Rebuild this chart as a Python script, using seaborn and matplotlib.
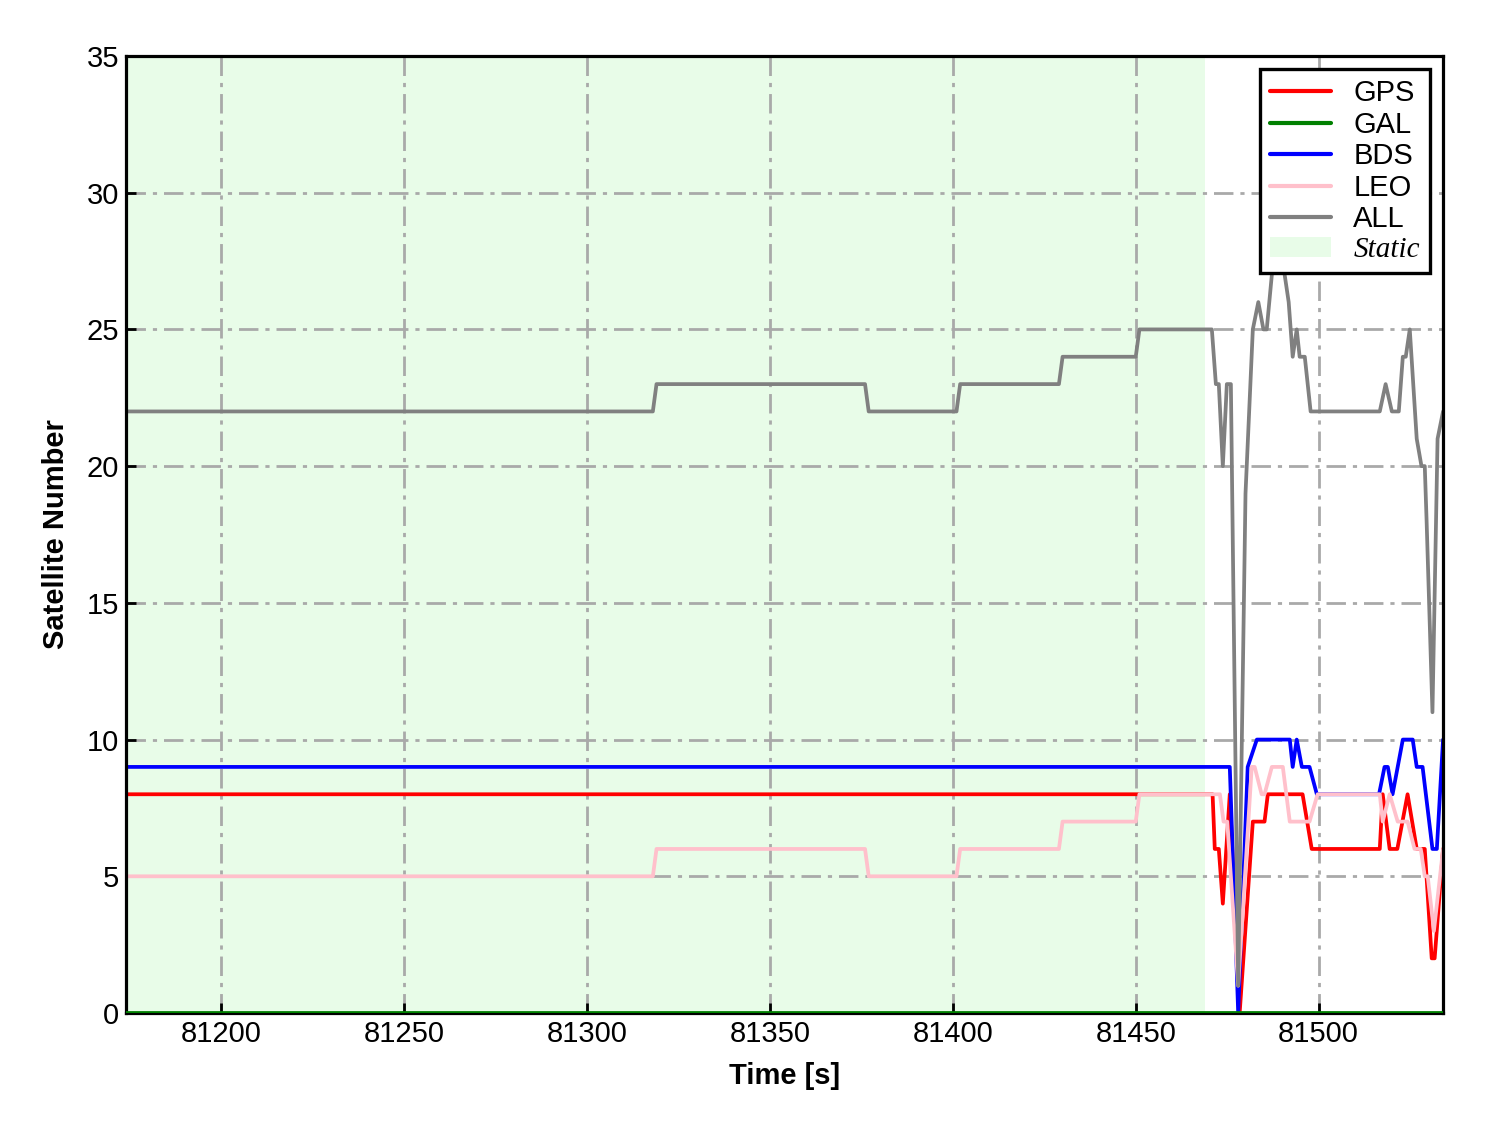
import pandas as pd
import seaborn as sns
import matplotlib
matplotlib.use('Agg')
import matplotlib.pyplot as plt
from matplotlib.patches import Patch

# breakpoints (time in s, satellite count)
t_gps = [81174, 81471, 81471.6, 81472.7, 81473.8, 81475.7, 81478.4, 81482, 81485.2, 81486.1,
         81495.6, 81498.1, 81516.7, 81517.5, 81519.4, 81521.5, 81524.3, 81526.8, 81529, 81530.9,
         81531.7, 81534]
n_gps = [8, 8, 6, 6, 4, 8, 0, 7, 7, 8,
         8, 6, 6, 8, 6, 6, 8, 6, 6, 2,
         2, 6]

t_gal = [81174, 81534]
n_gal = [0, 0]

t_bds = [81174, 81475.7, 81478, 81480.6, 81483.1, 81492.1, 81492.9, 81494, 81495.4, 81497.5,
         81499.5, 81516.5, 81518, 81518.9, 81520.2, 81523, 81525.7, 81526.8, 81528.4, 81531.1,
         81532.3, 81534]
n_bds = [9, 9, 0, 9, 10, 10, 9, 10, 9, 9,
         8, 8, 9, 9, 8, 10, 10, 9, 9, 6,
         6, 10]

t_leo = [81174, 81318, 81319, 81376, 81377, 81401, 81402, 81429, 81430, 81450,
         81451, 81473, 81474, 81475, 81478, 81481.7, 81482.5, 81484.4, 81485.2, 81487.2,
         81490.2, 81492.1, 81497.5, 81499.7, 81516.7, 81517.5, 81519.4, 81521.6, 81524.3, 81526.2,
         81527.9, 81529, 81529.8, 81531.5, 81534]
n_leo = [5, 5, 6, 6, 5, 5, 6, 6, 7, 7,
         8, 8, 7, 7, 1, 9, 9, 8, 8, 9,
         9, 7, 7, 8, 8, 7, 8, 7, 7, 6,
         6, 5, 5, 3, 6]

t_all = [81174, 81318, 81319, 81376, 81377, 81401, 81402, 81429, 81430, 81450,
         81451, 81470.8, 81471.9, 81472.7, 81473.8, 81474.9, 81476, 81478, 81480, 81482,
         81483.5, 81484.9, 81485.8, 81487.2, 81489, 81490.7, 81491.8, 81492.9, 81494, 81494.8,
         81496.2, 81497.8, 81516.7, 81518.3, 81520, 81521.9, 81523, 81523.8, 81524.9, 81526.8,
         81528.1, 81529, 81529.5, 81531.1, 81532.5, 81534]
n_all = [22, 22, 23, 23, 22, 22, 23, 23, 24, 24,
         25, 25, 23, 23, 20, 23, 23, 1, 19, 25,
         26, 25, 25, 27, 29, 27, 26, 24, 25, 24,
         24, 22, 22, 23, 22, 22, 24, 24, 25, 21,
         20, 20, 18, 11, 21, 22]

systems = ['GPS', 'GAL', 'BDS', 'LEO', 'ALL']
colors = ['red', 'green', 'blue', 'pink', 'gray']
static_end = 81469

series = {
    'GPS': (t_gps, n_gps),
    'GAL': (t_gal, n_gal),
    'BDS': (t_bds, n_bds),
    'LEO': (t_leo, n_leo),
    'ALL': (t_all, n_all),
}

sns.set_style('ticks')
plt.rcParams['font.family'] = ['Liberation Sans', 'DejaVu Sans']
plt.rcParams['text.color'] = 'black'
plt.rcParams['axes.labelcolor'] = 'black'
plt.rcParams['xtick.color'] = 'black'
plt.rcParams['ytick.color'] = 'black'

fig, ax = plt.subplots(figsize=(14.88, 11.33), dpi=100)
fig.subplots_adjust(left=0.0847, right=0.9698, top=0.9506, bottom=0.1059)

ax.axvspan(t_all[0], static_end, color='#e8fce8', lw=0, zorder=0)

handles = []
for name, col in zip(systems, colors):
    t, n = series[name]
    df = pd.DataFrame({'Time': t, 'Num': n})
    sns.lineplot(data=df, x='Time', y='Num', color=col, linewidth=2.7,
                 estimator=None, sort=False, ax=ax, label=name, legend=False)
    handles.append(ax.lines[-1])
# GAL sits on the x axis; keep its upper half visible above the spine
handles[1].set_zorder(6)

ax.set_xlim(t_all[0], t_all[-1])
ax.set_ylim(0, 35)
ax.set_xticks(range(81200, 81501, 50))
ax.set_yticks(range(0, 36, 5))
ax.tick_params(direction='in', length=7, width=2, labelsize=21, pad=5,
               top=False, right=False)
ax.grid(True, color='darkgray', linestyle=(0, (7, 2.5, 1.5, 2.5)), linewidth=2)
for g in ax.get_xgridlines() + ax.get_ygridlines():
    g.set_zorder(1)
ygl = ax.get_ygridlines()
ygl[0].set_visible(False)
ygl[-1].set_visible(False)
for s in ax.spines.values():
    s.set_linewidth(2.3)
    s.set_color('black')
    s.set_zorder(5)

ax.set_xlabel('Time [s]', fontsize=21, fontweight='bold', labelpad=10)
ax.set_ylabel('Satellite Number', fontsize=21, fontweight='bold', labelpad=12)

handles.append(Patch(facecolor='#e8fce8', edgecolor='none'))
leg = ax.legend(handles, systems + ['Static'], loc='upper right', fontsize=21,
                fancybox=False, framealpha=1, edgecolor='black', handlelength=2.1,
                labelspacing=0.12, handletextpad=0.75, borderaxespad=0.45,
                borderpad=0.35)
leg.set_zorder(10)
leg.get_frame().set_linewidth(2.4)
for h in leg.legend_handles[:5]:
    h.set_linewidth(3)
st = leg.get_texts()[-1]
st.set_fontfamily('Liberation Serif')
st.set_fontstyle('italic')

fig.savefig('out.png', dpi=100)
